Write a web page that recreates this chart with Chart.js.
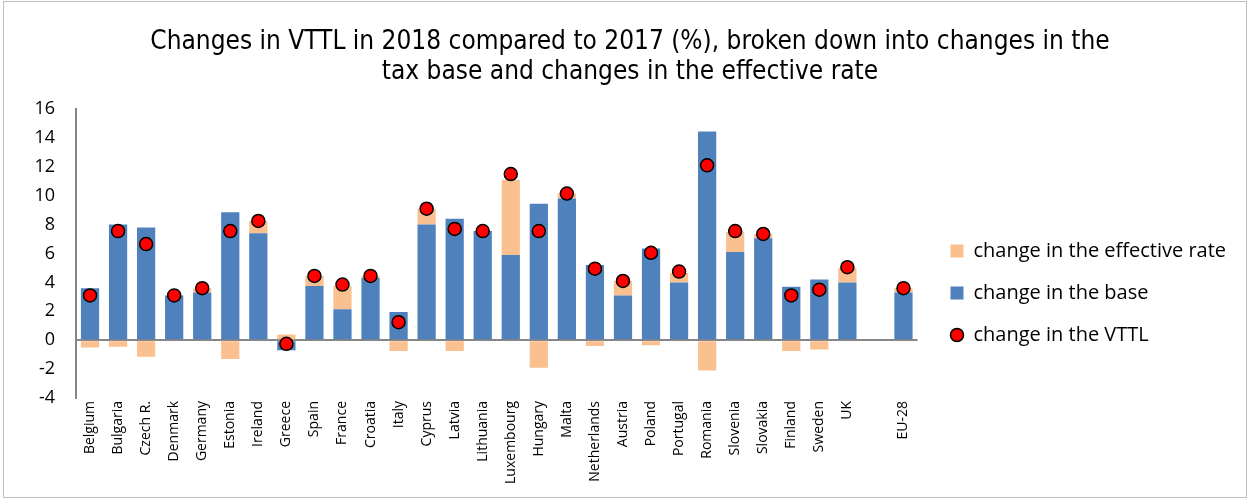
<!DOCTYPE html>
<html>
<head>
<meta charset="utf-8">
<script src="https://cdn.jsdelivr.net/npm/chart.js@4.4.1/dist/chart.umd.min.js"></script>
<style>
  html, body { margin: 0; padding: 0; background: #ffffff; }
  #wrap { position: relative; width: 1250px; height: 500px; }
  #frame { position: absolute; left: 3px; top: 1px; right: 3px; bottom: 2px; border: 1px solid #bfbfbf; pointer-events: none; }
</style>
</head>
<body>
<div id="wrap">
  <canvas id="chart"></canvas>
  <div id="frame"></div>
</div>
<script>
// Member states (plus a spacer before the EU aggregate)
const categories = ['Belgium', 'Bulgaria', 'Czech R.', 'Denmark', 'Germany', 'Estonia', 'Ireland', 'Greece',
  'Spain', 'France', 'Croatia', 'Italy', 'Cyprus', 'Latvia', 'Lithuania', 'Luxembourg', 'Hungary', 'Malta',
  'Netherlands', 'Austria', 'Poland', 'Portugal', 'Romania', 'Slovenia', 'Slovakia', 'Finland', 'Sweden', 'UK',
  '', 'EU-28'];

// Contribution of the change in the tax base (%)
const baseChange = [3.6, 8.0, 7.8, 3.1, 3.3, 8.85, 7.4, -0.7, 3.75, 2.15, 4.3, 1.95, 8.0, 8.4, 7.55, 5.9,
  9.45, 9.8, 5.2, 3.1, 6.35, 4.0, 14.45, 6.1, 7.05, 3.7, 4.2, 4.0, null, 3.3];

// Contribution of the change in the effective rate (%)
const rateChange = [-0.5, -0.45, -1.15, 0, 0.3, -1.3, 0.85, 0.4, 0.7, 1.6, 0.15, -0.75, 1.1, -0.75, 0, 5.2,
  -1.9, 0.35, -0.4, 1.0, -0.35, 0.65, -2.1, 1.4, 0.3, -0.75, -0.65, 1.0, null, 0.3];

// Total change in the VAT total tax liability (%)
const vttlChange = [3.1, 7.55, 6.65, 3.1, 3.6, 7.55, 8.25, -0.25, 4.45, 3.85, 4.45, 1.25, 9.1, 7.7, 7.55, 11.5,
  7.55, 10.15, 4.95, 4.1, 6.05, 4.75, 12.1, 7.55, 7.35, 3.1, 3.5, 5.05, null, 3.6];

const yMin = -4, yMax = 16, yStep = 2;

const titleLines = ['Changes in VTTL in 2018 compared to 2017 (%), broken down into changes in the',
  'tax base and changes in the effective rate'];

const seriesNames = ['change in the base', 'change in the effective rate', 'change in the VTTL'];
const legendOrder = [1, 0, 2];

const BLUE = '#4f81bd', PEACH = '#fac090', RED = '#ff0000';
const FONT = "'Open Sans', 'Noto Sans', sans-serif";
const TITLE_FONT = "'DejaVu Sans Condensed', 'DejaVu Sans', sans-serif";

// Small marker used as the legend symbol of the VTTL series
function dotSymbol(r, fill, stroke, lw) {
  const c = document.createElement('canvas');
  const s = Math.ceil(2 * r + 2 * lw + 2);
  c.width = s; c.height = s;
  const g = c.getContext('2d');
  g.beginPath();
  g.arc(s / 2, s / 2, r, 0, Math.PI * 2);
  g.fillStyle = fill; g.fill();
  g.lineWidth = lw; g.strokeStyle = stroke; g.stroke();
  return c;
}

// Centres the title across the whole canvas and places the legend
// block a little away from the plot edge
const boxPlacement = {
  id: 'boxPlacement',
  afterLayout(chart, args, opts) {
    const tb = chart.titleBlock;
    if (tb) {
      tb.left = opts.titleLeft;
      tb.right = chart.width;
      tb.width = tb.right - tb.left;
    }
    const lg = chart.legend;
    if (lg) {
      const w = lg.width, h = lg.height;
      lg.left = chart.chartArea.right + opts.dx;
      lg.right = lg.left + w;
      lg.top += opts.dy;
      lg.bottom = lg.top + h;
    }
  }
};

const ctx = document.getElementById('chart').getContext('2d');
new Chart(ctx, {
  data: {
    labels: categories,
    datasets: [
      {
        type: 'bar', label: seriesNames[0], data: baseChange, stack: 'parts', order: 1,
        backgroundColor: BLUE, borderWidth: 0, pointStyle: 'rect',
        barPercentage: 0.65, categoryPercentage: 1.0
      },
      {
        type: 'bar', label: seriesNames[1], data: rateChange, stack: 'parts', order: 1,
        backgroundColor: PEACH, borderWidth: 0, pointStyle: 'rect',
        barPercentage: 0.65, categoryPercentage: 1.0
      },
      {
        type: 'line', label: seriesNames[2], data: vttlChange, stack: 'total', order: 0,
        showLine: false, pointStyle: 'circle', pointRadius: 6.5, pointHoverRadius: 6.5,
        pointBackgroundColor: RED, pointBorderColor: '#000000', pointBorderWidth: 1.5,
        backgroundColor: RED, borderColor: '#000000'
      }
    ]
  },
  options: {
    responsive: true,
    maintainAspectRatio: false,
    animation: false,
    devicePixelRatio: 1,
    layout: { padding: { left: 10, right: 30, top: 0, bottom: 0 } },
    plugins: {
      title: {
        display: true,
        text: titleLines,
        color: '#000000',
        font: { family: TITLE_FONT, size: 26, weight: 'normal', lineHeight: 30 / 26 },
        padding: { top: 27, bottom: 22 }
      },
      legend: {
        position: 'right',
        align: 'center',
        labels: {
          usePointStyle: true,
          boxWidth: 13,
          boxHeight: 13,
          padding: 22,
          color: '#000000',
          font: { family: FONT, size: 20 },
          sort: (a, b) => legendOrder.indexOf(a.datasetIndex) - legendOrder.indexOf(b.datasetIndex),
          generateLabels(chart) {
            const items = Chart.defaults.plugins.legend.labels.generateLabels(chart);
            items.forEach(it => {
              if (it.datasetIndex === 2) {
                it.pointStyle = dotSymbol(6.5, RED, '#000000', 1.5);
              } else {
                it.lineWidth = 0;
                it.strokeStyle = 'rgba(0,0,0,0)';
              }
            });
            return items;
          }
        }
      },
      boxPlacement: { titleLeft: 10, dx: 11, dy: 43 },
      tooltip: { enabled: false }
    },
    scales: {
      x: {
        stacked: true,
        grid: { display: false, drawTicks: false },
        border: { display: false },
        ticks: {
          autoSkip: false, maxRotation: 90, minRotation: 90, padding: 3,
          color: '#000000', font: { family: FONT, size: 14 }
        },
        afterFit(scale) { scale.height = 102; }
      },
      y: {
        stacked: true,
        min: yMin, max: yMax,
        ticks: {
          stepSize: yStep, padding: 21, color: '#000000',
          font: { family: FONT, size: 18 }
        },
        grid: {
          drawTicks: false,
          lineWidth: 2,
          color: c => (c.tick && c.tick.value === 0 ? '#868686' : 'rgba(0,0,0,0)')
        },
        border: { display: true, color: '#868686', width: 2 },
        afterFit(scale) { scale.width = 66; }
      }
    }
  },
  plugins: [boxPlacement]
});
</script>
</body>
</html>
